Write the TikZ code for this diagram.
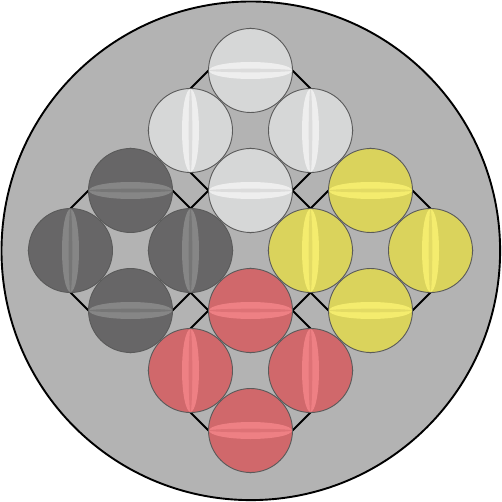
\documentclass[tikz,border=0pt]{standalone}
\definecolor{bgray}{HTML}{B3B3B3}
\definecolor{sgray}{HTML}{5A5A5A}
\definecolor{lbase}{HTML}{D6D7D7}\definecolor{lband}{HTML}{EEEEEE}\definecolor{lline}{HTML}{DCDCDC}
\definecolor{dbase}{HTML}{676667}\definecolor{dband}{HTML}{868686}\definecolor{dline}{HTML}{767676}
\definecolor{ybase}{HTML}{DAD35C}\definecolor{yband}{HTML}{F4EC6E}\definecolor{yline}{HTML}{E3DB64}
\definecolor{rbase}{HTML}{D0686B}\definecolor{rband}{HTML}{EE8084}\definecolor{rline}{HTML}{DE7276}
\tikzset{
  bgdisc/.style={fill=bgray, draw=black, line width=1.9pt},
  dia/.style={draw=black, line width=1.8pt, line join=round},
  sphereoutline/.style={draw=sgray, line width=0.9pt},
}
\newcommand{\mysph}[4]{% x, y, rotation, colour prefix
  \begin{scope}[shift={(#1,#2)}, rotate=#3]
    \fill[#4base, sphereoutline] (0,0) circle (42);
    \fill[#4band] (0,0) ellipse (41.5 and 8.5);
    \fill[#4line] (0,0) ellipse (41.5 and 1.8);
  \end{scope}}
\newcommand{\mygroup}[3]{% cx, cy, colour prefix
  \mysph{#1}{#2-60}{0}{#3}
  \mysph{#1-60}{#2}{90}{#3}
  \mysph{#1+60}{#2}{90}{#3}
  \mysph{#1}{#2+60}{0}{#3}}
\begin{document}
\begin{tikzpicture}[x=1pt,y=-1pt]
  \useasboundingbox (0,0) rectangle (502,502);
  \path[bgdisc] (250.8,250.8) circle (249.3);
  \foreach \cx/\cy in {250.5/130.5, 130.5/250.5, 370.5/250.5, 250.5/370.5, 250.5/250.5}{
    \draw[dia] (\cx,\cy-102) -- (\cx+102,\cy) -- (\cx,\cy+102) -- (\cx-102,\cy) -- cycle;
  }
  \mygroup{250.5}{130.5}{l}
  \mygroup{130.5}{250.5}{d}
  \mygroup{370.5}{250.5}{y}
  \mygroup{250.5}{370.5}{r}
\end{tikzpicture}
\end{document}
